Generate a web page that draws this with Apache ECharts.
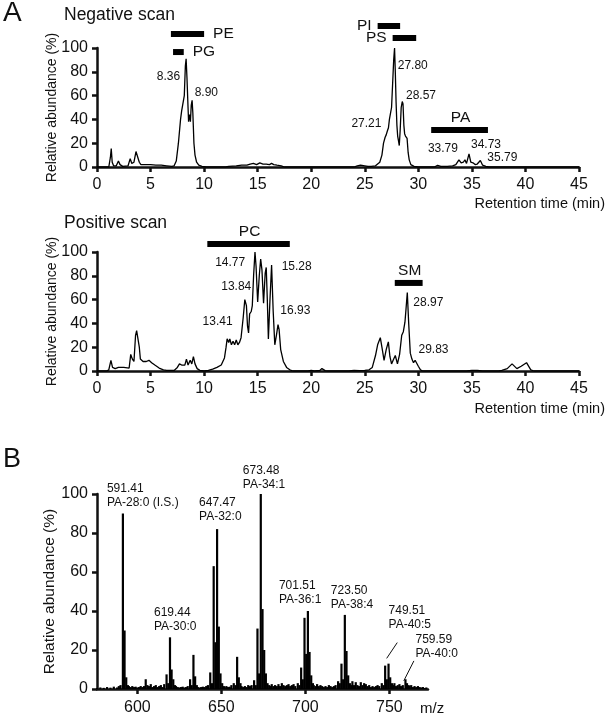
<!DOCTYPE html>
<html>
<head>
<meta charset="utf-8">
<script src="https://cdn.jsdelivr.net/npm/echarts@6/dist/echarts.min.js"></script>
<style>
html,body{margin:0;padding:0;background:#fff;}
#chart{width:606px;height:716px;}
</style>
</head>
<body>
<div id="chart"></div>
<script>
// ---------- DATA ----------
// Negative scan chromatogram [retention time (min), relative abundance (%)]
const negScan = [[0,0],[1.1,0],[1.25,8],[1.33,15.5],[1.42,4],[1.55,1],[1.8,1],[2.0,5],[2.15,2],[2.4,0.5],[2.9,1],[3.1,7],[3.25,3],[3.45,4],[3.64,13],[3.8,12],[3.95,4],[4.1,2],[4.5,2],[5,2],[5.5,1.5],[6,1.5],[6.5,1],[7,0.5],[7.2,1],[7.4,5],[7.6,20],[7.8,40],[7.9,47],[8.0,48],[8.05,46],[8.15,60],[8.25,85],[8.32,91],[8.4,75],[8.5,50],[8.55,38],[8.6,42],[8.65,44],[8.72,38],[8.8,52],[8.88,56],[8.95,45],[9.05,20],[9.15,10],[9.3,4],[9.5,1.5],[9.8,0.5],[10.2,0],[12,0],[12.3,0.5],[13,1],[13.5,1.5],[14,1.5],[14.3,2.5],[14.6,3],[14.9,2],[15.2,3.5],[15.5,2.5],[15.8,2.5],[16.1,2],[16.3,3],[16.5,2],[16.8,1.5],[17.2,1],[17.5,0],[24,0],[24.3,1],[24.6,1.5],[25,1],[25.3,0.5],[25.6,0.5],[26,1],[26.4,4],[26.6,10],[26.75,20],[26.9,25],[27.0,27],[27.1,30],[27.21,33],[27.3,40],[27.4,45],[27.5,50],[27.6,70],[27.7,90],[27.78,100],[27.85,80],[27.92,55],[28.0,35],[28.07,26],[28.15,22],[28.22,18],[28.3,30],[28.4,50],[28.5,55],[28.57,53],[28.65,35],[28.72,28],[28.8,26],[28.88,27],[28.95,24],[29.05,12],[29.15,6],[29.3,2],[29.6,0.5],[30,0],[31.5,0],[31.8,1.4],[32.1,0.5],[32.7,0.5],[33.2,1],[33.5,2],[33.79,6],[34.0,3.5],[34.2,4],[34.35,6],[34.5,3],[34.73,11],[34.9,4],[35.1,3.5],[35.3,2],[35.5,2.5],[35.79,5.5],[36.0,1.5],[36.3,0.5],[36.6,0],[45,0]];

// Positive scan chromatogram
const posScan = [[0,0],[0.9,0],[1.1,1],[1.3,9],[1.45,3],[1.7,2],[2,3],[2.5,3],[3.0,2.5],[3.15,14],[3.3,10],[3.45,8],[3.6,30],[3.7,34],[3.85,35],[3.95,20],[4.05,10],[4.3,8],[4.6,8],[4.85,9],[5.1,7],[5.4,5],[5.8,2.5],[6.2,1],[6.5,0.5],[7.2,0.5],[7.5,3],[7.7,6],[7.9,5],[8.05,6],[8.2,5],[8.35,10],[8.5,5],[8.7,9],[8.85,6],[9.0,12],[9.15,6],[9.35,2],[9.6,0.5],[10,0],[10.4,0.5],[10.8,1.5],[11.2,3],[11.6,5],[11.9,11],[12.05,20],[12.15,27],[12.3,24],[12.4,27],[12.55,22],[12.7,25],[12.85,22],[13.0,26],[13.15,22],[13.3,24],[13.45,28],[13.55,27],[13.65,45],[13.8,60],[13.95,55],[14.05,38],[14.15,32],[14.25,48],[14.4,50],[14.5,55],[14.62,80],[14.75,100],[14.85,88],[15.0,58],[15.15,80],[15.28,94],[15.4,85],[15.55,57],[15.7,82],[15.8,87],[15.9,60],[16.0,27],[16.15,60],[16.3,89],[16.45,50],[16.6,22],[16.75,30],[16.9,39],[17.0,35],[17.15,18],[17.4,8],[17.7,3],[18.0,1],[18.3,0],[19.7,0],[20.0,0.5],[20.3,0],[20.8,0.5],[21.0,2],[21.3,0.3],[21.6,0],[23.5,0],[24,0.5],[24.5,0.3],[25.0,0.5],[25.4,1],[25.7,3],[26.0,13],[26.2,22],[26.45,28],[26.6,20],[26.8,9],[27.0,18],[27.2,24.5],[27.35,12],[27.5,6],[27.7,10],[27.85,13],[28.05,6],[28.25,14],[28.45,30],[28.6,33],[28.75,41],[28.85,52],[28.97,66],[29.1,40],[29.25,15],[29.4,10],[29.55,7],[29.7,9],[29.83,10],[30.0,4],[30.2,1],[30.4,0],[34.5,0],[35,0.5],[35.5,0.5],[36,0],[37.5,0],[37.8,0.5],[38.3,2],[38.75,6],[39.2,2],[39.6,4],[40.1,7],[40.5,1],[40.8,0],[45,0]];

// Lipid class elution ranges [start, end] and bar level (%)
const negClassNames = ['PE','PG','PI','PS','PA'];
const negClassStart = [6.9, 7.1, 26.2, 27.6, 31.2];
const negClassEnd   = [10.0, 8.1, 28.3, 29.8, 36.5];
const negClassLevel = [111.8, 96.6, 118.5, 108.4, 31];
const posClassNames = ['PC','SM'];
const posClassStart = [10.3, 27.8];
const posClassEnd   = [18.0, 30.4];
const posClassLevel = [106.7, 74];

// Peak annotations [retention time, abundance at peak]
const negPeakLabels = ['8.36','8.90','27.21','27.80','28.57','33.79','34.73','35.79'];
const negPeakTime   = [8.36, 8.90, 27.21, 27.80, 28.57, 33.79, 34.73, 35.79];
const negPeakValue  = [91, 56, 50, 100, 55, 6, 11, 5.5];
const posPeakLabels = ['13.41','13.84','14.77','15.28','16.93','28.97','29.83'];
const posPeakTime   = [13.41, 13.84, 14.77, 15.28, 16.93, 28.97, 29.83];
const posPeakValue  = [26, 60, 100, 94, 39, 66, 10];

// Mass spectrum [m/z, relative abundance (%)]
const spectrum = [[576,0.5],[578,0.8],[580,0.6],[582,1],[584,0.7],[586,1.2],[588,0.8],[589,1.5],[590,2],[591.41,90],[592.4,30],[593.4,6],[594.4,2],[595,1.5],[596,1],[597,1.5],[598,1],[599,1.2],[600,0.8],[601,1],[602,1.5],[603,1],[604,1.5],[605,5],[606,2],[607,1.5],[608,2.5],[609,1],[610,1.5],[611,2],[612,1],[613,1.5],[614,2],[615,1],[616,2.5],[617.4,7.5],[618.4,3],[619.44,26.5],[620.4,10],[621.4,5],[622.4,2],[623,1.5],[624,1],[625,0.8],[626,1],[627,1.2],[628,0.8],[629,1],[630,1.5],[631.4,5],[632.4,2],[633.4,17.5],[634.4,6.5],[635.4,2],[636,1],[637,0.8],[638,1],[639,1.2],[640,1],[641,1.5],[642,2],[643.4,8.5],[644.4,3],[645.45,63],[646.45,24],[647.47,82],[648.5,32],[649.5,8],[650.5,3],[651.5,1.5],[652,1],[653,1.5],[654,1],[655,1.2],[656,2],[657.4,3],[658.4,2],[659.4,16.5],[660.4,6],[661.4,3],[662,1.5],[663,1],[664,1.5],[665,1],[666,2],[667,1.5],[668,2],[669.5,4.5],[670.5,2],[671.5,31],[672.5,8],[673.48,100],[674.5,41],[675.5,20],[676.5,8],[677.5,3],[678.5,2],[679,1.5],[680,2.5],[681,1.5],[682,2],[683,1.5],[684,2.5],[685,1.5],[686,3],[687,2],[688,1.5],[689,2],[690,2.5],[691,1.5],[692,2],[693,2.5],[694,1.5],[695.5,3],[696.5,2],[697.5,11],[698.5,5],[699.5,36.5],[700.5,18],[701.51,40],[702.5,19],[703.5,7],[704.5,3],[705,2],[706,1.5],[707,2.5],[708,1.5],[709,2],[710,1.5],[711,1],[712,1.5],[713,1],[714,2],[715,1.5],[716,1],[717,1.5],[718,2],[719.5,4],[720.5,3],[721.5,13],[722.5,5],[723.5,38],[724.5,19.5],[725.5,7],[726.5,3],[727.5,2],[728,4],[729,2],[730,3.5],[731,2],[732,1.5],[733,3.5],[734,2],[735,3],[736,2.5],[737,1.5],[738,2],[739,1],[740,1.5],[741,1],[742,1.5],[743,2],[744,1.5],[745.5,3],[746.5,2],[747.5,12],[748.5,5],[749.51,13],[750.5,6],[751.5,3],[752.5,2],[753,3],[754,1.5],[755,2],[756,2.5],[757,1.5],[758,2],[759.59,5],[760.5,3],[761.5,2],[762,1.5],[763,2],[764,1],[765,1.5],[766,1],[767,1.5],[768,1],[769,0.8],[770,1],[771,0.5],[772,0.8]];

const specPeakLabels = ['591.41\nPA-28:0 (I.S.)','619.44\nPA-30:0','647.47\nPA-32:0','673.48\nPA-34:1','701.51\nPA-36:1','723.50\nPA-38:4','749.51\nPA-40:5','759.59\nPA-40:0'];
const specPeakMz     = [591.41, 619.44, 647.47, 673.48, 701.51, 723.50, 749.51, 759.59];
const specPeakValue  = [90, 26.5, 82, 100, 40, 38, 13, 5];

const rtTicks = [0,5,10,15,20,25,30,35,40,45];
const mzTicks = [600,650,700,750];

// ---------- STYLE ----------
const FONT = '"Liberation Sans", Arial, Helvetica, sans-serif';
const INK = '#111';
const negLabelOffsets = [[-18,18],[14,-8],[-22,16],[18,18],[18,-6],[-16,-11],[17,-9],[22,-3]];
const posLabelOffsets = [[-23,-18],[-9,-13],[-25,11],[36,8],[17,-14],[21,10],[17,-9]];
const specLabelOffsets = [[-16,-32],[-16,-32],[-18,-33],[-18,-30],[-29,-32],[-14,-31],[0,-60],[10,-47]];
const negClassSide = ['right','right','left','left','top'];
const posClassSide = ['top','top'];

const chart = echarts.init(document.getElementById('chart'), null, {renderer:'canvas'});

function axisCommon(){
  return {
    axisLine:{show:true, lineStyle:{color:INK, width:2.5}},
    axisTick:{show:true, inside:false, length:5, lineStyle:{color:INK, width:2.5}},
    splitLine:{show:false},
    axisLabel:{color:INK, fontSize:16, fontFamily:FONT}
  };
}
function xRt(gi){
  const a = axisCommon();
  return Object.assign(a, {type:'value', gridIndex:gi, min:0, max:45, interval:5,
    axisLabel:Object.assign(a.axisLabel,{margin:10, customValues:rtTicks}),
    axisTick:Object.assign(a.axisTick,{customValues:rtTicks})});
}
function yAb(gi, nameSize, gap){
  const a = axisCommon();
  return Object.assign(a, {type:'value', gridIndex:gi, min:0, max:100, interval:20,
    name:'Relative abundance (%)', nameLocation:'middle', nameGap:gap, nameMoveOverlap:false,
    nameTextStyle:{color:INK, fontSize:nameSize, fontFamily:FONT},
    axisLabel:Object.assign(a.axisLabel,{margin:9})});
}

function classSeries(names, starts, ends, levels, sides, xi){
  return {
    type:'custom', xAxisIndex:xi, yAxisIndex:xi, clip:false, silent:true, z:5,
    data: names.map((n,i)=>[starts[i], ends[i], levels[i]]),
    encode:{x:[0,1], y:2},
    renderItem:function(params, api){
      const i = params.dataIndex;
      const s = api.coord([api.value(0), api.value(2)]);
      const e = api.coord([api.value(1), api.value(2)]);
      const side = sides[i];
      let tx, ty, al;
      if(side==='right'){tx=e[0]+9; ty=s[1]; al='left';}
      else if(side==='left'){tx=s[0]-6; ty=s[1]; al='right';}
      else {tx=(s[0]+e[0])/2+1; ty=s[1]-12; al='center';}
      return {type:'group', children:[
        {type:'rect', shape:{x:s[0], y:s[1]-3, width:e[0]-s[0], height:6}, style:{fill:'#000'}},
        {type:'text', style:{text:names[i], x:tx, y:ty, align:al, verticalAlign:'middle',
          fontSize:15.5, fontFamily:FONT, fill:INK}}
      ]};
    }
  };
}

function peakMarks(labels, xs, ys, offsets, twoLine){
  return {
    symbol:'circle', symbolSize:1, silent:true, animation:false,
    itemStyle:{color:'rgba(0,0,0,0)'},
    label:{show:true, color:INK, fontSize:12, fontFamily:FONT, position:'inside',
      align: twoLine?'left':'center', verticalAlign: twoLine?'top':'middle', lineHeight:14},
    data: labels.map((t,i)=>({coord:[xs[i], ys[i]], value:t,
      label:{formatter:t, offset:offsets[i]}}))
  };
}

const option = {
  animation:false,
  backgroundColor:'#fff',
  textStyle:{fontFamily:FONT},
  title:[
    {text:'A', left:3, top:-1, padding:0, textStyle:{fontSize:28, fontWeight:'normal', color:INK, fontFamily:FONT}},
    {text:'Negative scan', left:64, top:6, padding:0, textStyle:{fontSize:17.5, fontWeight:'normal', color:INK, fontFamily:FONT}},
    {text:'Positive scan', left:64, top:214, padding:0, textStyle:{fontSize:17.5, fontWeight:'normal', color:INK, fontFamily:FONT}},
    {text:'Retention time (min)', right:1, top:196, padding:0, textStyle:{fontSize:14.5, fontWeight:'normal', color:INK, fontFamily:FONT}},
    {text:'Retention time (min)', right:1, top:401, padding:0, textStyle:{fontSize:14.5, fontWeight:'normal', color:INK, fontFamily:FONT}},
    {text:'B', left:3, top:446, padding:0, textStyle:{fontSize:27, fontWeight:'normal', color:INK, fontFamily:FONT}},
    {text:'m/z', left:420, top:701, padding:0, textStyle:{fontSize:15, fontWeight:'normal', color:INK, fontFamily:FONT}}
  ],
  grid:[
    {left:97, top:48, width:482, height:119},
    {left:97, top:252, width:482, height:119},
    {left:97, top:494, width:331, height:196}
  ],
  xAxis:[
    xRt(0), xRt(1),
    Object.assign(axisCommon(), {type:'value', gridIndex:2, min:576, max:773,
      axisLabel:{color:INK, fontSize:16, fontFamily:FONT, margin:11, customValues:mzTicks},
      axisTick:{show:true, inside:false, length:5, lineStyle:{color:INK, width:2.5}, customValues:mzTicks}})
  ],
  yAxis:[ yAb(0,14,38), yAb(1,14,38), yAb(2,15.5,39) ],
  series:[
    {type:'line', xAxisIndex:0, yAxisIndex:0, data:negScan, showSymbol:false, symbol:'none',
      lineStyle:{color:'#000', width:1.3}, silent:true,
      markPoint: peakMarks(negPeakLabels, negPeakTime, negPeakValue, negLabelOffsets, false)},
    classSeries(negClassNames, negClassStart, negClassEnd, negClassLevel, negClassSide, 0),
    {type:'line', xAxisIndex:1, yAxisIndex:1, data:posScan, showSymbol:false, symbol:'none',
      lineStyle:{color:'#000', width:1.3}, silent:true,
      markPoint: peakMarks(posPeakLabels, posPeakTime, posPeakValue, posLabelOffsets, false)},
    classSeries(posClassNames, posClassStart, posClassEnd, posClassLevel, posClassSide, 1),
    {type:'bar', xAxisIndex:2, yAxisIndex:2, data:spectrum, barWidth:2.2, silent:true,
      itemStyle:{color:'#000'},
      markPoint: peakMarks(specPeakLabels, specPeakMz, specPeakValue, specLabelOffsets, true),
      markLine:{symbol:['none','none'], silent:true, animation:false,
        lineStyle:{color:INK, width:1, type:'solid'}, label:{show:false},
        data:[
          [{coord:[754.7,23.8]},{coord:[748.4,15.7]}],
          [{coord:[764.6,14.4]},{coord:[758.6,4.2]}]
        ]}}
  ]
};
chart.setOption(option);
</script>
</body>
</html>
